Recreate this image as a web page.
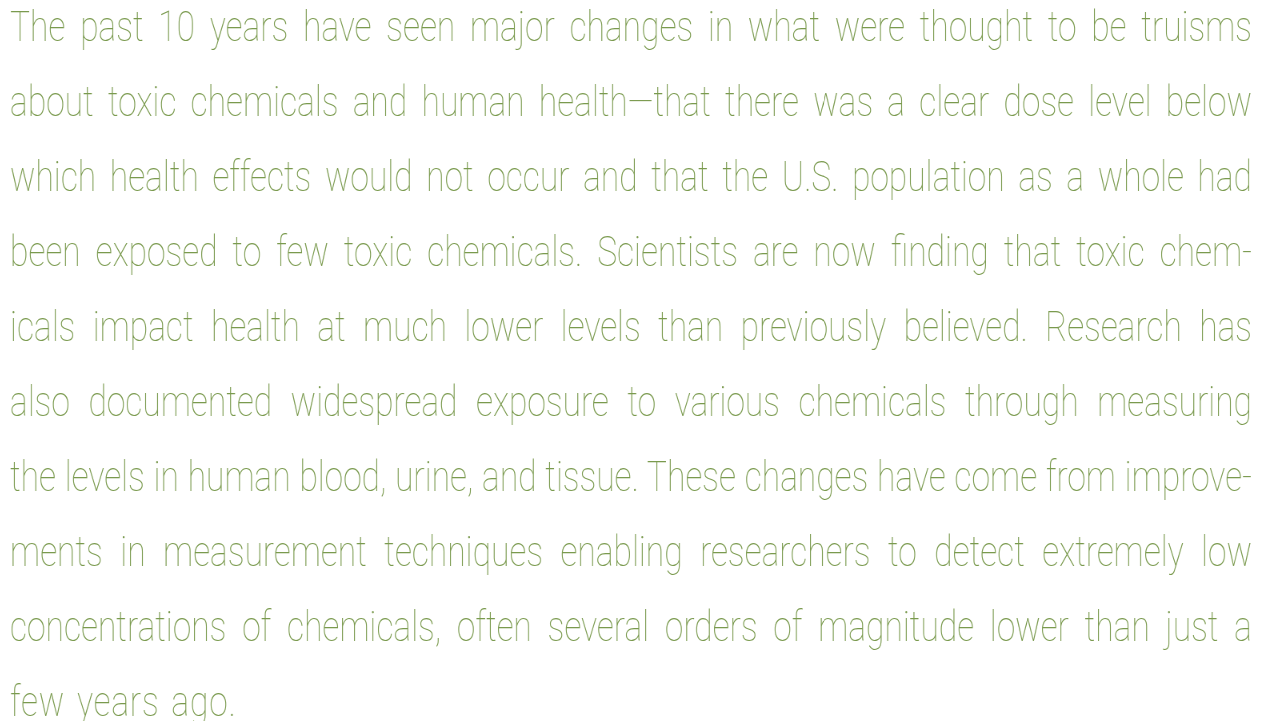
<!DOCTYPE html>
<html lang="en">
<head>
    <meta charset="UTF-8">
    <title>Toxic chemicals</title>
    <script src="https://cdn.jsdelivr.net/npm/chart.js"></script>
    <style>
        html, body {
            margin: 0;
            padding: 0;
            background: #ffffff;
            overflow: hidden;
        }
        #text {
            position: absolute;
            left: 10px;
            top: -11px;
            width: calc(1242px / 0.8);
            transform: scaleX(0.8);
            transform-origin: left top;
            will-change: transform;
            font-family: "Roboto", sans-serif;
            font-weight: 100;
            font-size: 42px;
            line-height: 75px;
            color: #7a9a4e;
            -webkit-font-smoothing: antialiased;
        }
        .line {
            text-align: justify;
            text-align-last: justify;
        }
        .line.last {
            text-align-last: left;
            letter-spacing: 1px;
            word-spacing: 4px;
        }
    </style>
</head>
<body>
    <div id="text"></div>

    <script>
        // paragraph, one entry per printed line
        const lines = [
            "The past 10 years have seen major changes in what were thought to be truisms",
            "about toxic chemicals and human health\u2014that there was a clear dose level below",
            "which health effects would not occur and that the U.S. population as a whole had",
            "been exposed to few toxic chemicals. Scientists are now finding that toxic chem-",
            "icals impact health at much lower levels than previously believed. Research has",
            "also documented widespread exposure to various chemicals through measuring",
            "the levels in human blood, urine, and tissue. These changes have come from improve-",
            "ments in measurement techniques enabling researchers to detect extremely low",
            "concentrations of chemicals, often several orders of magnitude lower than just a",
            "few years ago."
        ];

        const box = document.getElementById("text");
        lines.forEach((txt, i) => {
            const div = document.createElement("div");
            div.className = "line" + (i === lines.length - 1 ? " last" : "");
            div.textContent = txt;
            box.appendChild(div);
        });
    </script>
</body>
</html>
